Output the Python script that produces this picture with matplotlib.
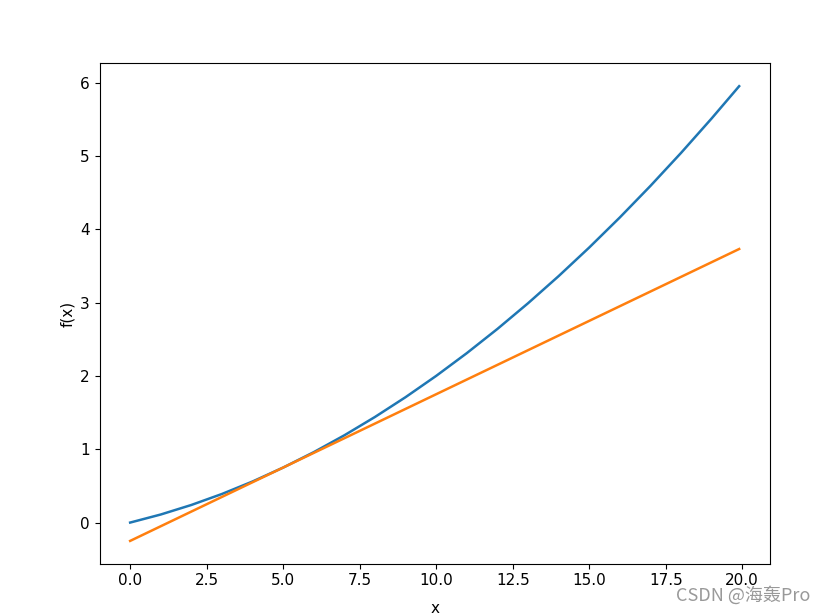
import matplotlib; matplotlib.use("Agg")
import matplotlib.pyplot as plt

# f(x)
x_curve = [0, 1, 2, 3, 4, 5, 6, 7, 8, 9, 10, 11, 12, 13, 14, 15, 16, 17, 18, 19, 19.9]
y_curve = [0.0, 0.11, 0.24, 0.39, 0.56, 0.75, 0.96, 1.19, 1.44, 1.71, 2.0,
           2.31, 2.64, 2.99, 3.36, 3.75, 4.16, 4.59, 5.04, 5.51, 5.95]
# tangent line (orange) end points
x_tan = [0, 19.9]
y_tan = [-0.25, 3.73]

plt.rcParams["font.size"] = 11
fig = plt.figure(figsize=(8.24, 6.16), dpi=100)
ax = fig.add_axes([0.121, 0.085, 0.813, 0.812])
ax.plot(x_curve, y_curve, lw=1.8)
ax.plot(x_tan, y_tan, lw=1.8)
ax.set_xlabel("x", labelpad=9)
ax.set_ylabel("f(x)")
fig.text(0.983, 0.018, "CSDN @海轰Pro", ha="right", va="bottom", color="#999999",
         fontsize=13, family=["Noto Sans CJK SC", "DejaVu Sans"])
fig.savefig("out.png", dpi=100)
